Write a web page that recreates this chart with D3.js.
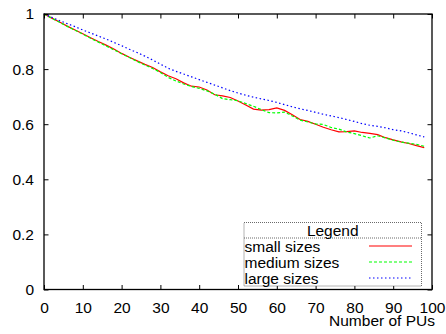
<!DOCTYPE html>
<html>
<head>
<meta charset="utf-8">
<script src="https://cdn.jsdelivr.net/npm/d3@7"></script>
<style>
  body { margin: 0; background: #fff; }
  text { font-family: "Liberation Sans", Arial, Helvetica, sans-serif; font-size: 15.5px; fill: #000; }
</style>
</head>
<body>
<div id="chart"></div>
<script>
// number of PUs (x positions of the samples)
var pus = d3.range(0, 100, 2);

var smallSizes = [1.000, 0.985, 0.971, 0.956, 0.942, 0.928, 0.914, 0.900, 0.887, 0.873,
                  0.857, 0.843, 0.830, 0.817, 0.806, 0.790, 0.776, 0.765, 0.750, 0.738,
                  0.735, 0.724, 0.707, 0.703, 0.697, 0.684, 0.670, 0.655, 0.651, 0.653,
                  0.659, 0.650, 0.634, 0.617, 0.610, 0.600, 0.589, 0.580, 0.572, 0.573,
                  0.576, 0.570, 0.567, 0.562, 0.551, 0.543, 0.536, 0.530, 0.522, 0.515];

var mediumSizes = [1.000, 0.985, 0.970, 0.955, 0.941, 0.927, 0.912, 0.898, 0.884, 0.870,
                   0.856, 0.842, 0.828, 0.815, 0.802, 0.788, 0.770, 0.757, 0.746, 0.737,
                   0.730, 0.721, 0.709, 0.693, 0.689, 0.685, 0.675, 0.665, 0.653, 0.642,
                   0.641, 0.644, 0.630, 0.615, 0.608, 0.601, 0.599, 0.588, 0.582, 0.572,
                   0.566, 0.558, 0.550, 0.558, 0.550, 0.542, 0.535, 0.531, 0.527, 0.520];

var largeSizes = [1.000, 0.988, 0.976, 0.965, 0.954, 0.942, 0.931, 0.920, 0.909, 0.897,
                  0.885, 0.872, 0.860, 0.847, 0.833, 0.818, 0.803, 0.792, 0.782, 0.772,
                  0.762, 0.752, 0.742, 0.732, 0.722, 0.713, 0.705, 0.698, 0.692, 0.686,
                  0.679, 0.671, 0.663, 0.656, 0.650, 0.643, 0.636, 0.630, 0.624, 0.617,
                  0.610, 0.602, 0.596, 0.592, 0.587, 0.580, 0.576, 0.569, 0.561, 0.554];

var xTicks = [0, 10, 20, 30, 40, 50, 60, 70, 80, 90, 100];
var yTicks = [0, 0.2, 0.4, 0.6, 0.8, 1];

var seriesNames = ["small sizes", "medium sizes", "large sizes"];
var seriesColors = ["#ff0000", "#00ff00", "#0000ff"];
var seriesDash = [null, "3,2", "1.5,2.5"];

var width = 446, height = 334;
var pL = 44, pR = 432, pT = 14, pB = 289.5;

var x = d3.scaleLinear().domain([0, 100]).range([pL, pR]);
var y = d3.scaleLinear().domain([0, 1]).range([pB, pT]);

var svg = d3.select("#chart").append("svg")
    .attr("width", width)
    .attr("height", height);

svg.append("rect").attr("width", width).attr("height", height).attr("fill", "#fff");

var series = [smallSizes, mediumSizes, largeSizes];

var line = d3.line()
    .x(function(d, i) { return x(pus[i]); })
    .y(function(d) { return y(d); });

series.forEach(function(s, k) {
  svg.append("path")
      .datum(s)
      .attr("d", line)
      .attr("fill", "none")
      .attr("stroke", seriesColors[k])
      .attr("stroke-width", 1.2)
      .attr("stroke-dasharray", seriesDash[k]);
});

// axes: ticks inward, mirrored on top and right
var tk = 4.5;
svg.append("g")
    .attr("transform", "translate(0," + pB + ")")
    .call(d3.axisBottom(x).tickValues(xTicks).tickSize(-tk).tickPadding(12).tickFormat(d3.format("d")))
    .call(function(g) { g.select(".domain").remove(); });
svg.append("g")
    .attr("transform", "translate(0," + pT + ")")
    .call(d3.axisTop(x).tickValues(xTicks).tickSize(-tk).tickFormat(""))
    .call(function(g) { g.select(".domain").remove(); });
svg.append("g")
    .attr("transform", "translate(" + pL + ",0)")
    .call(d3.axisLeft(y).tickValues(yTicks).tickSize(-tk).tickPadding(10).tickFormat(d3.format("")))
    .call(function(g) { g.select(".domain").remove(); });
svg.append("g")
    .attr("transform", "translate(" + pR + ",0)")
    .call(d3.axisRight(y).tickValues(yTicks).tickSize(-tk).tickFormat(""))
    .call(function(g) { g.select(".domain").remove(); });

svg.selectAll(".tick text")
    .style("font-size", "15.5px")
    .style("font-family", "'Liberation Sans', Arial, sans-serif");
svg.selectAll(".tick line").attr("stroke", "#000");

svg.append("rect")
    .attr("x", pL).attr("y", pT)
    .attr("width", pR - pL).attr("height", pB - pT)
    .attr("fill", "none").attr("stroke", "#000").attr("stroke-width", 1.3);

svg.append("text")
    .attr("x", 435).attr("y", 326)
    .attr("text-anchor", "end")
    .text("Number of PUs");

// legend
var lg = svg.append("g");
var lx0 = 244, lx1 = 421.5, ly0 = 222.5, ly1 = 286;
lg.append("rect")
    .attr("x", lx0).attr("y", ly0).attr("width", lx1 - lx0).attr("height", ly1 - ly0)
    .attr("fill", "#fff").attr("stroke", "#444").attr("stroke-width", 0.8).attr("stroke-dasharray", "1,1");
lg.append("line")
    .attr("x1", lx0).attr("x2", lx1).attr("y1", 238).attr("y2", 238)
    .attr("stroke", "#444").attr("stroke-width", 0.8).attr("stroke-dasharray", "1,1");
lg.append("text")
    .attr("x", (lx0 + lx1) / 2).attr("y", 236)
    .attr("text-anchor", "middle")
    .text("Legend");

seriesNames.forEach(function(name, k) {
  var by = 252 + k * 16;
  lg.append("text").attr("x", 244.5).attr("y", by).text(name);
  lg.append("line")
      .attr("x1", 369).attr("x2", 412)
      .attr("y1", by - 6).attr("y2", by - 6)
      .attr("stroke", seriesColors[k])
      .attr("stroke-width", 1.2)
      .attr("stroke-dasharray", seriesDash[k]);
});
</script>
</body>
</html>
